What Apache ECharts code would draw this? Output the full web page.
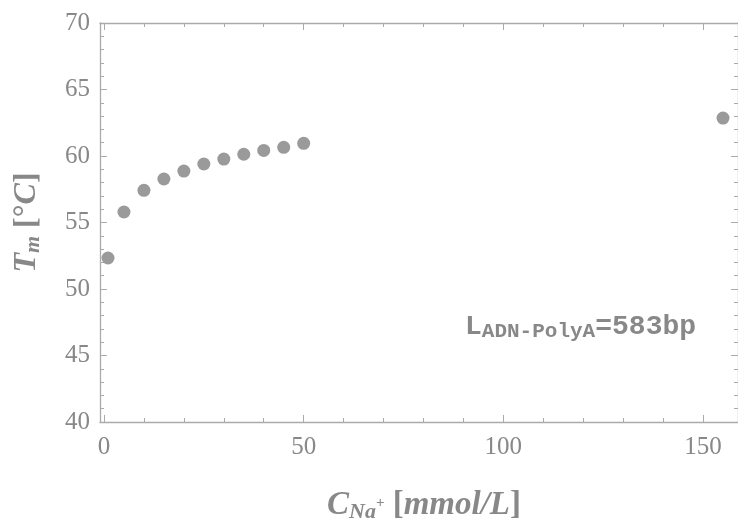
<!DOCTYPE html>
<html><head><meta charset="utf-8">
<script src="https://cdn.jsdelivr.net/npm/echarts@6/dist/echarts.min.js"></script>
<style>html,body{margin:0;padding:0;background:#fff}#c{width:738px;height:519px}</style>
</head><body><div id="c"></div>
<script>
const naConc = [1, 5, 10, 15, 20, 25, 30, 35, 40, 45, 50, 155];
const meltTemp = [52.33, 55.79, 57.42, 58.27, 58.87, 59.4, 59.77, 60.13, 60.42, 60.65, 60.95, 62.85];
const xTicks = [0, 50, 100, 150];
const xMinorTicks = [10,20,30,40,60,70,80,90,110,120,130,140];
const yTicks = [40, 45, 50, 55, 60, 65, 70];
const yMinorTicks = [41,42,43,44,46,47,48,49,51,52,53,54,56,57,58,59,61,62,63,64,66,67,68,69];

const axisCol = '#aaaaaa', textCol = '#888888', pointCol = '#9a9a9a';
const serif = '"Liberation Serif","Times New Roman",serif';
const mono = '"Liberation Mono","Courier New",monospace';
const XMIN = -1, XMAX = 158.75, YMIN = 40, YMAX = 70;

function xAx(pos, ticks, len, showLine, showLabel) {
  return {
    type: 'value', position: pos, min: XMIN, max: XMAX, gridIndex: 0,
    axisLine: {show: showLine, onZero: false, lineStyle: {color: axisCol, width: 1.3}},
    axisTick: {show: true, inside: true, length: len, customValues: ticks, lineStyle: {color: axisCol, width: 1}},
    axisLabel: {show: showLabel, customValues: ticks, color: textCol, fontFamily: serif, fontSize: 25, margin: 13},
    splitLine: {show: false}
  };
}
function yAx(pos, ticks, len, showLine, showLabel) {
  return {
    type: 'value', position: pos, min: YMIN, max: YMAX, gridIndex: 0,
    axisLine: {show: showLine, onZero: false, lineStyle: {color: axisCol, width: 1.3}},
    axisTick: {show: true, inside: true, length: len, customValues: ticks, lineStyle: {color: axisCol, width: 1}},
    axisLabel: {show: showLabel, customValues: ticks, color: textCol, fontFamily: serif, fontSize: 25, margin: 10},
    splitLine: {show: false}
  };
}

const xAxes = [
  xAx('bottom', xTicks, 7, true, true),
  xAx('bottom', xMinorTicks, 4, false, false),
  xAx('top', xTicks, 7, true, false),
  xAx('top', xMinorTicks, 4, false, false)
];
const yAxes = [
  yAx('left', yTicks, 7, true, true),
  yAx('left', yMinorTicks, 4, false, false),
  yAx('right', yTicks, 7, true, false),
  yAx('right', yMinorTicks, 4, false, false)
];
yAxes[0].name = '{b|T}{s|m}{n| [°}{i|C}{n|]}';
yAxes[0].nameLocation = 'middle';
yAxes[0].nameGap = 56;
yAxes[0].nameRotate = 90;
yAxes[0].nameTextStyle = {
  color: textCol, fontFamily: serif, fontSize: 32,
  rich: {
    b: {fontFamily: serif, fontSize: 32, fontWeight: 'bold', fontStyle: 'italic', color: textCol},
    s: {fontFamily: serif, fontSize: 22, fontWeight: 'bold', fontStyle: 'italic', color: textCol, verticalAlign: 'bottom', padding: [12,0,0,0]},
    n: {fontFamily: serif, fontSize: 32, fontWeight: 'bold', color: textCol},
    i: {fontFamily: serif, fontSize: 32, fontWeight: 'bold', fontStyle: 'italic', color: textCol}
  }
};

const data = naConc.map((x, i) => [x, meltTemp[i]]);

const option = {
  animation: false,
  backgroundColor: '#ffffff',
  grid: {left: 100, top: 23, width: 639, height: 399, containLabel: false},
  title: [
    {
      text: '{b|C}{s|Na}{p|+}{n| [}{b|mmol/L}{n|]}',
      left: 322, top: 482,
      textStyle: {
        rich: {
          b: {fontFamily: serif, fontSize: 33, fontWeight: 'bold', fontStyle: 'italic', color: textCol},
          s: {fontFamily: serif, fontSize: 22, fontWeight: 'bold', fontStyle: 'italic', color: textCol, verticalAlign: 'bottom', padding: [14,0,0,0]},
          p: {fontFamily: serif, fontSize: 15, fontWeight: 'bold', color: textCol, verticalAlign: 'bottom', padding: [0,0,12,0]},
          n: {fontFamily: serif, fontSize: 33, fontWeight: 'bold', color: textCol}
        }
      }
    },
    {
      text: '{l|L}{s|ADN-PolyA}{l|=583bp}',
      left: 460, top: 306,
      textStyle: {
        rich: {
          l: {fontFamily: mono, fontSize: 28, fontWeight: 'bold', color: textCol},
          s: {fontFamily: mono, fontSize: 21, fontWeight: 'bold', color: textCol, verticalAlign: 'bottom', padding: [10,0,0,0]}
        }
      }
    }
  ],
  xAxis: xAxes,
  yAxis: yAxes,
  series: [{
    type: 'scatter', xAxisIndex: 0, yAxisIndex: 0,
    data: data, symbol: 'circle', symbolSize: 13,
    itemStyle: {color: pointCol, opacity: 1},
    clip: false
  }]
};
echarts.init(document.getElementById('c')).setOption(option);
</script></body></html>
